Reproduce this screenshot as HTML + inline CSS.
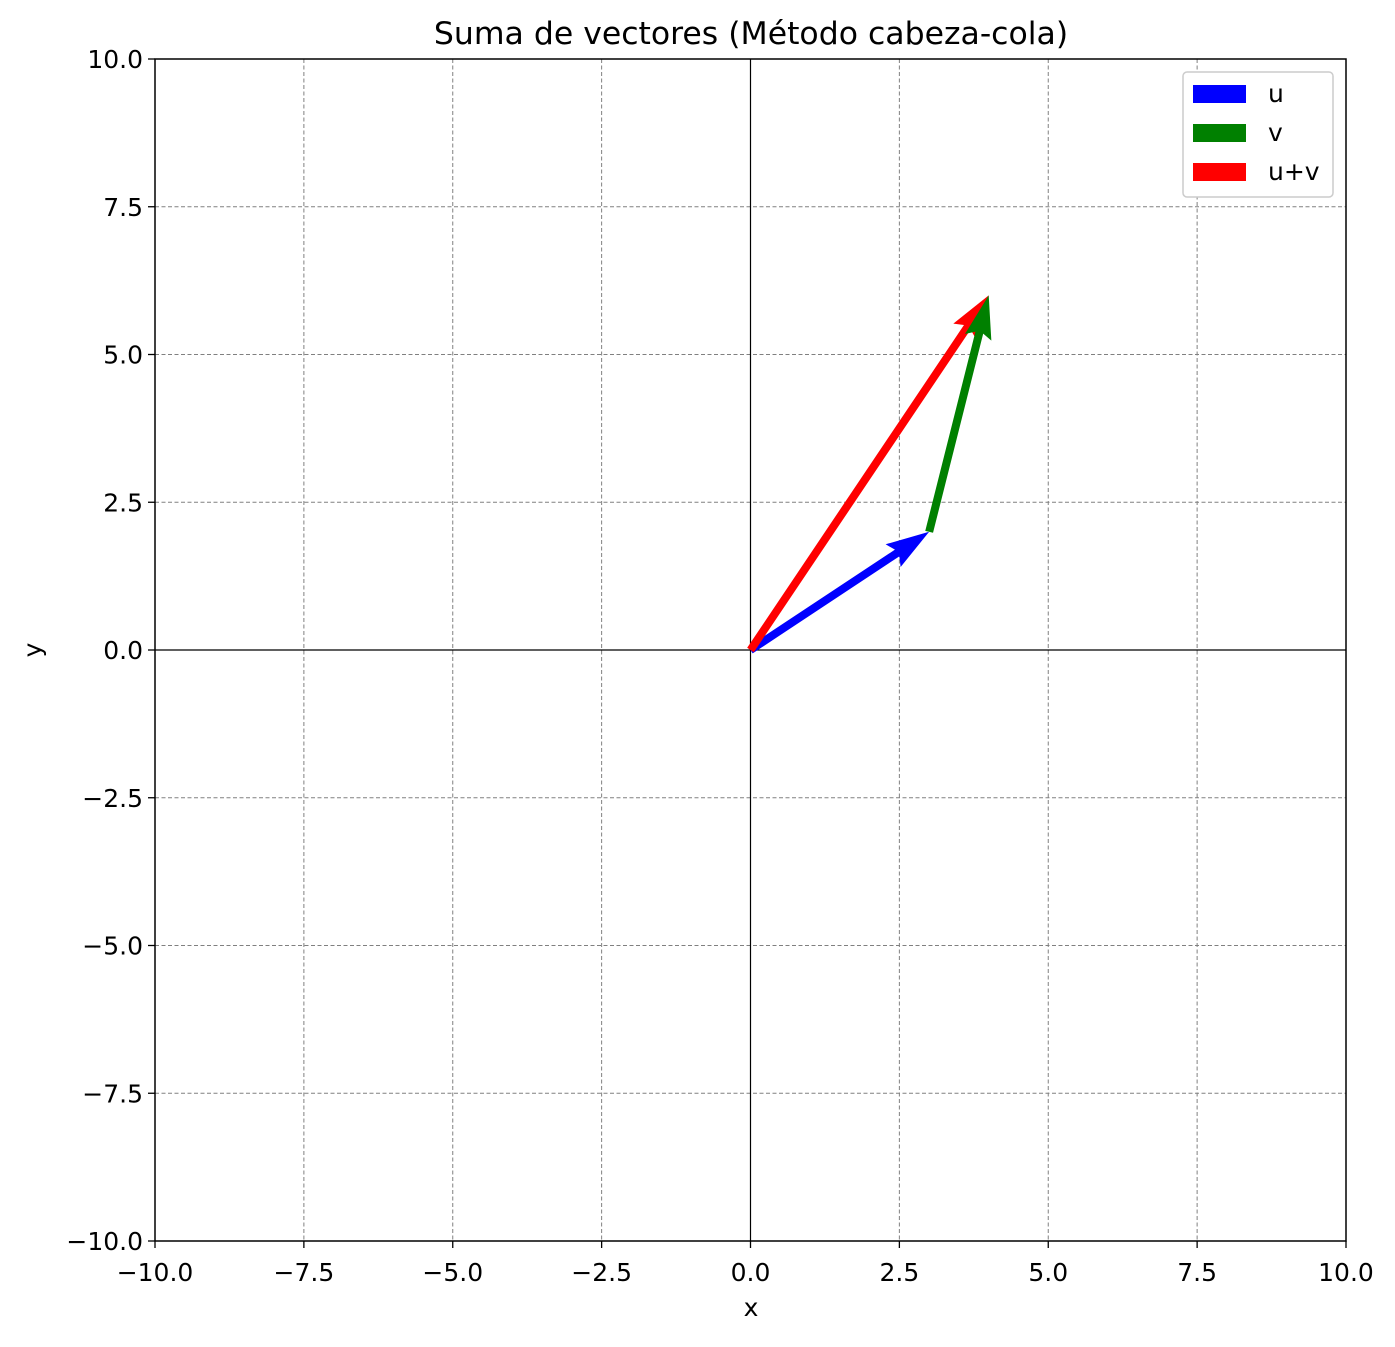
<!DOCTYPE html>
<html><head><meta charset="utf-8"><style>
body{margin:0;background:#fff;}
svg text{font-family:"DejaVu Sans","Liberation Sans",sans-serif;}
</style></head><body>
<svg id="chart" width="1395" height="1342" xmlns="http://www.w3.org/2000/svg">
<rect width="1395" height="1342" fill="#fff"/>
<g id="grid"></g>
<g id="axes0"></g>
<g id="vectors"></g>
<rect x="155" y="59" width="1191" height="1182" fill="none" stroke="#000" stroke-width="1.5"/>
<g id="ticks"></g>
<text x="751" y="44" font-size="31.5" text-anchor="middle">Suma de vectores (Método cabeza-cola)</text>
<text x="751" y="1316" font-size="25" text-anchor="middle">x</text>
<text x="41" y="650" font-size="25" text-anchor="middle" transform="rotate(-90 41 650)">y</text>
<g>
<rect x="1183" y="72" width="150" height="125" rx="4" fill="#fff" stroke="#ccc" stroke-width="1.5"/>
<rect x="1193" y="85" width="53" height="18" fill="#0000ff"/>
<text x="1268" y="102" font-size="25">u</text>
<rect x="1193" y="124" width="53" height="18" fill="#008000"/>
<text x="1268" y="141" font-size="25">v</text>
<rect x="1193" y="163" width="53" height="18" fill="#ff0000"/>
<text x="1268" y="180" font-size="25">u+v</text>
</g>
</svg>
<script>
const ticks = [-10,-7.5,-5,-2.5,0,2.5,5,7.5,10];
const vecNames = ['u','u+v','v'];
const vecX0 = [0,0,3];
const vecY0 = [0,0,2];
const vecDX = [3,4,1];
const vecDY = [2,6,4];
const vecColors = ['#0000ff','#ff0000','#008000'];
const NS='http://www.w3.org/2000/svg';
const X0=155,X1=1346,Y0=1241,Y1=59;
const sx=v=>X0+(v+10)/20*(X1-X0);
const sy=v=>Y0-(v+10)/20*(Y0-Y1);
function mk(tag,attrs,parent){const e=document.createElementNS(NS,tag);for(const k in attrs)e.setAttribute(k,attrs[k]);parent.appendChild(e);return e;}
const grid=document.getElementById('grid'),tk=document.getElementById('ticks');
const fmt=v=>(v<0?'\u2212':'')+Math.abs(v).toFixed(1);
ticks.forEach(t=>{
  const gx=mk('line',{x1:sx(t),x2:sx(t),y1:Y1,y2:Y0,stroke:'#808080','stroke-width':1,'stroke-dasharray':'4,2.5'},grid);
  
  
  const gy=mk('line',{x1:X0,x2:X1,y1:sy(t),y2:sy(t),stroke:'#808080','stroke-width':1,'stroke-dasharray':'4,2.5'},grid);
  
  
  mk('line',{x1:sx(t),x2:sx(t),y1:Y0,y2:Y0+7,stroke:'#000','stroke-width':1.3},tk);
  mk('line',{x1:X0-7,x2:X0,y1:sy(t),y2:sy(t),stroke:'#000','stroke-width':1.3},tk);
  const lx=mk('text',{x:sx(t),y:Y0+40,'font-size':25,'text-anchor':'middle'},tk);
  lx.textContent=fmt(t);
  
  
  const ly=mk('text',{x:X0-12,y:sy(t)+9,'font-size':25,'text-anchor':'end'},tk);
  ly.textContent=fmt(t);
  
  
});
const ax=document.getElementById('axes0');
mk('line',{x1:sx(0),x2:sx(0),y1:Y1,y2:Y0,stroke:'#000','stroke-width':1.2},ax);
mk('line',{x1:X0,x2:X1,y1:sy(0),y2:sy(0),stroke:'#000','stroke-width':1.2},ax);
const vg=document.getElementById('vectors');
const w=8;
vecNames.forEach((n,i)=>{
  const ax0=sx(vecX0[i]),ay0=sy(vecY0[i]);
  const ax1=sx(vecX0[i]+vecDX[i]),ay1=sy(vecY0[i]+vecDY[i]);
  const L=Math.hypot(ax1-ax0,ay1-ay0);
  const ux=(ax1-ax0)/L,uy=(ay1-ay0)/L,px=-uy,py=ux;
  const pts=[[0,-w/2],[L-4.8*w,-w/2],[L-5.4*w,-1.7*w],[L,0],[L-5.4*w,1.7*w],[L-4.8*w,w/2],[0,w/2]]
    .map(([a,b])=>(ax0+ux*a+px*b).toFixed(2)+','+(ay0+uy*a+py*b).toFixed(2)).join(' ');
  const p=mk('polygon',{points:pts,fill:vecColors[i]},vg);
  
  
});
</script>
</body></html>
